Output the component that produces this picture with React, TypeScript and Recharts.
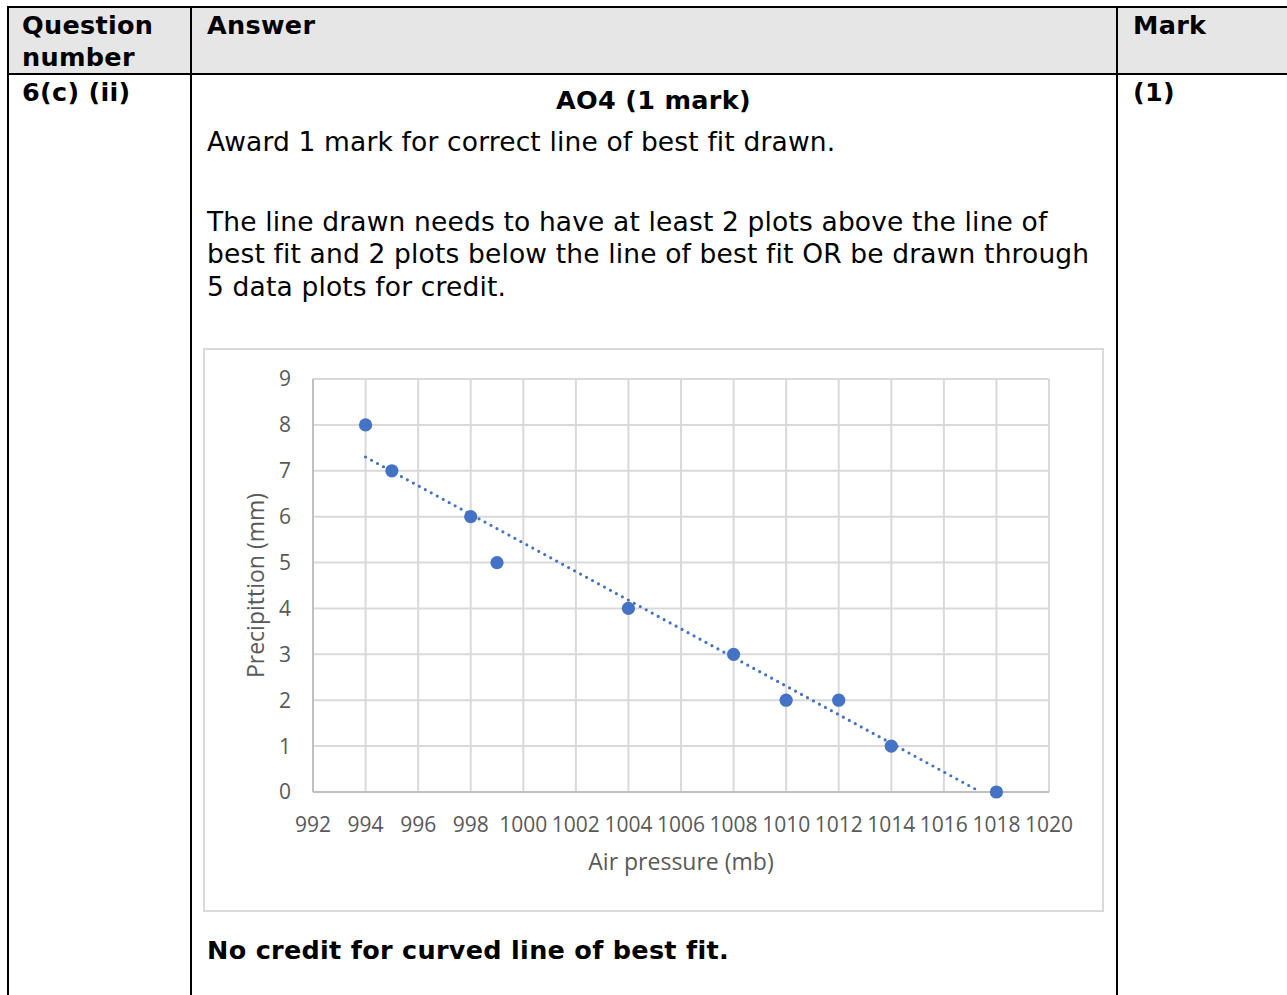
import React from "react";
import {
  ScatterChart,
  Scatter,
  XAxis,
  YAxis,
  CartesianGrid,
} from "recharts";

// values
const pressure = [994, 995, 998, 999, 1004, 1008, 1010, 1012, 1014, 1018];
const precipitation = [8, 7, 6, 5, 4, 3, 2, 2, 1, 0];
const xTicks = [992, 994, 996, 998, 1000, 1002, 1004, 1006, 1008, 1010, 1012, 1014, 1016, 1018, 1020];
const yTicks = [0, 1, 2, 3, 4, 5, 6, 7, 8, 9];
// dotted best-fit line, end points as drawn
const trendPressure = [994, 1017.4];
const trendPrecip = [7.3, 0];

const points = pressure.map((x, i) => ({ x, y: precipitation[i] }));
const trend = trendPressure.map((x, i) => ({ x, y: trendPrecip[i] }));

const blue = "#4472c4";
const docFont = "'DejaVu Sans', Verdana, sans-serif";
const chartFont = "'Open Sans', sans-serif";

const Txt = ({
  left,
  top,
  bold,
  lh = 32,
  style,
  children,
}: {
  left: number;
  top: number;
  bold?: boolean;
  lh?: number;
  style?: React.CSSProperties;
  children: React.ReactNode;
}) => (
  <div
    style={{
      position: "absolute",
      left,
      top,
      fontFamily: docFont,
      fontSize: bold ? 25.5 : 26.5,
      letterSpacing: bold ? 0.3 : 0.15,
      lineHeight: `${lh}px`,
      fontWeight: bold ? 700 : 400,
      color: "#000",
      whiteSpace: "nowrap",
      ...style,
    }}
  >
    {children}
  </div>
);

const Dot = (props: any) => (
  <circle cx={props.cx} cy={props.cy} r={6.6} fill={blue} />
);

function Chart() {
  return (
    <ScatterChart
      width={897}
      height={560}
      margin={{ top: 29, right: 53, bottom: 0, left: 0 }}
    >
      <CartesianGrid stroke="#d9d9d9" strokeWidth={2} />
      <XAxis
        type="number"
        dataKey="x"
        domain={[992, 1020]}
        ticks={xTicks}
        height={118}
        stroke="#bfbfbf"
        strokeWidth={2}
        tickLine={false}
        tickSize={0}
        tickMargin={25}
        tick={{ fill: "#595959", fontSize: 21, fontFamily: chartFont }}
        label={{
          value: "Air pressure (mb)",
          position: "insideBottom",
          offset: 40,
          fill: "#595959",
          fontSize: 23,
          fontFamily: chartFont,
        }}
      />
      <YAxis
        type="number"
        dataKey="y"
        domain={[0, 9]}
        ticks={yTicks}
        width={108}
        stroke="#bfbfbf"
        strokeWidth={2}
        tickLine={false}
        tickSize={0}
        tickMargin={22}
        tick={{ fill: "#595959", fontSize: 21, fontFamily: chartFont }}
        label={{
          value: "Precipittion (mm)",
          angle: -90,
          position: "insideLeft",
          offset: 51,
          fill: "#595959",
          fontSize: 23,
          fontFamily: chartFont,
          style: { textAnchor: "middle" },
        }}
      />
      <Scatter
        data={trend}
        isAnimationActive={false}
        line={{
          stroke: blue,
          strokeWidth: 3.2,
          strokeDasharray: "0 6.8",
          strokeLinecap: "round",
        }}
        shape={() => <g />}
      />
      <Scatter data={points} fill={blue} shape={Dot} isAnimationActive={false} />
    </ScatterChart>
  );
}

export default function App() {
  const line = "#000";
  return (
    <div
      style={{
        position: "absolute",
        left: 0,
        top: 0,
        width: 1287,
        height: 995,
        overflow: "hidden",
        background: "#fff",
      }}
    >
      {/* header fill */}
      <div style={{ position: "absolute", left: 9, top: 8, width: 1290, height: 65, background: "#e6e6e6" }} />
      {/* table rules */}
      <div style={{ position: "absolute", left: 7, top: 6, width: 1290, height: 2, background: line }} />
      <div style={{ position: "absolute", left: 7, top: 73, width: 1290, height: 2, background: line }} />
      <div style={{ position: "absolute", left: 7, top: 6, width: 2, height: 1000, background: line }} />
      <div style={{ position: "absolute", left: 190, top: 6, width: 2, height: 1000, background: line }} />
      <div style={{ position: "absolute", left: 1116, top: 6, width: 2, height: 1000, background: line }} />

      <Txt left={22} top={9} bold>
        Question
        <br />
        number
      </Txt>
      <Txt left={207} top={9} bold>Answer</Txt>
      <Txt left={1133} top={9} bold>Mark</Txt>

      <Txt left={22} top={76} bold>6(c) (ii)</Txt>
      <Txt left={1133} top={76} bold>(1)</Txt>

      <Txt left={192} top={84} bold style={{ width: 923, textAlign: "center" }}>
        AO4 (1 mark)
      </Txt>
      <Txt left={207} top={126} lh={32.5}>Award 1 mark for correct line of best fit drawn.</Txt>
      <Txt left={207} top={205.5} lh={32.5}>
        The line drawn needs to have at least 2 plots above the line of
        <br />
        best fit and 2 plots below the line of best fit OR be drawn through
        <br />
        5 data plots for credit.
      </Txt>

      <div
        style={{
          position: "absolute",
          left: 203,
          top: 348,
          width: 897,
          height: 560,
          border: "2px solid #d9d9d9",
          background: "#fff",
        }}
      >
        <Chart />
      </div>

      <Txt left={207} top={934} bold>No credit for curved line of best fit.</Txt>
    </div>
  );
}
